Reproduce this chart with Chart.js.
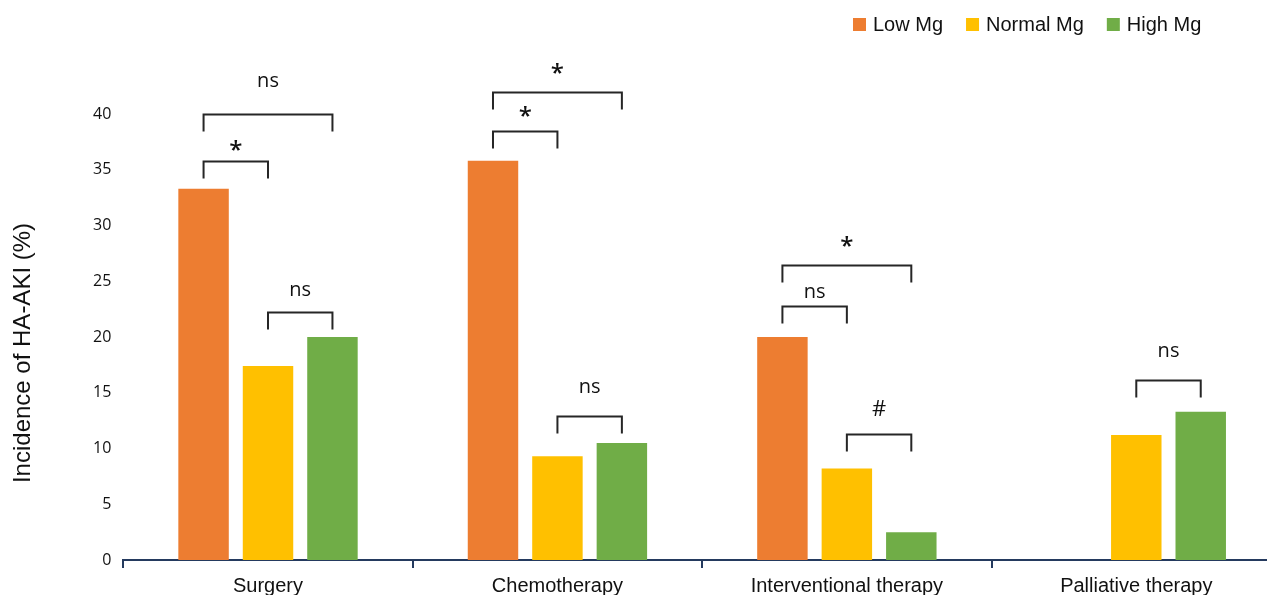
<!DOCTYPE html>
<html>
<head>
<meta charset="utf-8">
<script src="https://cdn.jsdelivr.net/npm/chart.js@4"></script>
<style>
  html, body { margin: 0; padding: 0; background: #fff; overflow: hidden; }
  #wrap { width: 1267px; height: 595px; overflow: hidden; position: relative; }
  canvas { display: block; }
</style>
</head>
<body>
<div id="wrap"><canvas id="chart" width="1281" height="604"></canvas></div>
<script>
const categories = ['Surgery', 'Chemotherapy', 'Interventional therapy', 'Palliative therapy'];
const seriesNames = ['Low Mg', 'Normal Mg', 'High Mg'];
const lowMg = [33.3, 35.8, 20.0, 0];
const normalMg = [17.4, 9.3, 8.2, 11.2];
const highMg = [20.0, 10.5, 2.5, 13.3];
const yTicks = [0, 5, 10, 15, 20, 25, 30, 35, 40];
const yTitle = 'Incidence of HA-AKI (%)';

// significance brackets: [category, from series, to series, line level, label level, label]
const brackets = [
    [0, 0, 1, 35.8, 37.0, '*'],
    [0, 0, 2, 40.0, 42.9, 'ns'],
    [0, 1, 2, 22.2, 24.2, 'ns'],
    [1, 0, 1, 38.5, 40.1, '*'],
    [1, 0, 2, 42.0, 43.9, '*'],
    [1, 1, 2, 12.9, 15.5, 'ns'],
    [2, 0, 1, 22.8, 24.0, 'ns'],
    [2, 0, 2, 26.5, 28.4, '*'],
    [2, 1, 2, 11.3, 13.5, '#'],
    [3, 1, 2, 16.1, 18.7, 'ns']
];

const colors = ['#ED7D31', '#FFC000', '#70AD47'];
const axisColor = '#243a5e';

const labelFonts = {
    '*': '600 24px "Open Sans"',
    '#': '22px "Open Sans"',
    'ns': '20px "Open Sans"'
};

const extras = {
    id: 'extras',
    afterDraw(chart) {
        const ctx = chart.ctx;
        const y = chart.scales.y;
        ctx.save();

        // brackets
        ctx.strokeStyle = '#262626';
        ctx.lineWidth = 2;
        ctx.fillStyle = '#111';
        ctx.textAlign = 'center';
        ctx.textBaseline = 'middle';
        brackets.forEach(b => {
            const x1 = chart.getDatasetMeta(b[1]).data[b[0]].x;
            const x2 = chart.getDatasetMeta(b[2]).data[b[0]].x;
            const py = Math.round(y.getPixelForValue(b[3])) + 0.5;
            ctx.beginPath();
            ctx.moveTo(x1, py + 17);
            ctx.lineTo(x1, py);
            ctx.lineTo(x2, py);
            ctx.lineTo(x2, py + 17);
            ctx.stroke();
            ctx.font = labelFonts[b[5]];
            const ly = y.getPixelForValue(b[4]) + (b[5] === '*' ? 4 : 0);
            ctx.fillText(b[5], (x1 + x2) / 2, ly);
        });

        // legend
        ctx.font = '20px "Liberation Sans", Arial';
        ctx.textAlign = 'left';
        let lx = 853;
        chart.data.datasets.forEach(ds => {
            ctx.fillStyle = ds.backgroundColor;
            ctx.fillRect(lx, 18, 13, 13);
            ctx.fillStyle = '#111';
            ctx.fillText(ds.label, lx + 20, 25);
            lx += 20 + ctx.measureText(ds.label).width + 23;
        });

        // y axis title
        ctx.translate(23, 353);
        ctx.rotate(-Math.PI / 2);
        ctx.font = '24px "Liberation Sans", Arial';
        ctx.textAlign = 'center';
        ctx.fillStyle = '#111';
        ctx.fillText(yTitle, 0, 0);
        ctx.restore();
    }
};

new Chart(document.getElementById('chart'), {
    type: 'bar',
    data: {
        labels: categories,
        datasets: [lowMg, normalMg, highMg].map((d, i) => ({
            label: seriesNames[i],
            data: d,
            backgroundColor: colors[i],
            borderWidth: 0,
            categoryPercentage: 0.668,
            barPercentage: 0.783
        }))
    },
    options: {
        responsive: false,
        animation: false,
        layout: { padding: { top: 114, left: 81, right: 0, bottom: 0 } },
        plugins: {
            legend: { display: false },
            tooltip: { enabled: false }
        },
        scales: {
            x: {
                border: { display: true, color: axisColor, width: 2 },
                grid: {
                    display: true,
                    drawOnChartArea: false,
                    drawTicks: true,
                    tickLength: 8,
                    color: axisColor,
                    lineWidth: 2
                },
                ticks: {
                    color: '#111',
                    padding: 6,
                    font: { family: '"Liberation Sans", Arial', size: 20 }
                }
            },
            y: {
                min: 0,
                max: 40,
                afterBuildTicks(scale) {
                    scale.ticks = yTicks.map(v => ({ value: v }));
                },
                border: { display: false },
                grid: { display: false, drawTicks: false },
                ticks: {
                    color: '#111',
                    padding: 12,
                    font: { family: '"Open Sans"', size: 16 }
                }
            }
        }
    },
    plugins: [extras]
});
</script>
</body>
</html>
